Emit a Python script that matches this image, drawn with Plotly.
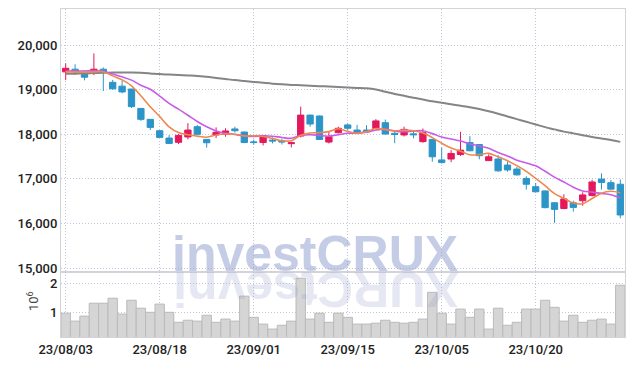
import plotly.graph_objects as go
from plotly.subplots import make_subplots

dates = (
    ["2023-08-%02d" % d for d in [3, 4, 7, 8, 9, 10, 11, 14, 16, 17, 18, 21, 22, 23, 24, 25, 28, 29, 30, 31]]
    + ["2023-09-%02d" % d for d in [1, 4, 5, 6, 7, 8, 11, 12, 13, 14, 15, 18, 19, 20, 21, 22, 25, 26, 27]]
    + ["2023-10-%02d" % d for d in [4, 5, 6, 10, 11, 12, 13, 16, 17, 18, 19, 20, 23, 24, 25, 26, 27, 30, 31]]
    + ["2023-11-%02d" % d for d in [1, 2]]
)

opens = [19400, 19460, 19350, 19410, 19460, 19165, 19080, 19015, 18580, 18335,
         18080, 17915, 17820, 17940, 18170, 17885, 17985, 18000, 18120, 18050,
         17830, 17815, 17870, 17850, 17790, 17960, 18430, 18410, 17825, 18035,
         18210, 18095, 18095, 18130, 18260, 18020, 17985, 18010, 17835, 17885,
         17425, 17445, 17545, 17815, 17770, 17410, 17445, 17310, 17220, 17010,
         16825, 16730, 16465, 16335, 16465, 16510, 16625, 16995, 16915, 16880]
highs = [19590, 19570, 19430, 19814, 19500, 19220, 19200, 19020, 18590, 18340,
         18090, 17980, 18005, 18250, 18210, 17890, 18155, 18135, 18170, 18060,
         17880, 17975, 17930, 17900, 17830, 18620, 18440, 18420, 18050, 18170,
         18240, 18210, 18205, 18340, 18330, 18060, 18170, 18090, 18130, 17890,
         17705, 17645, 18055, 17960, 17780, 17550, 17535, 17385, 17270, 17060,
         16910, 16740, 16470, 16655, 16510, 16700, 16980, 17125, 16975, 16985]
lows = [19215, 19330, 19210, 19327, 18970, 19000, 18920, 18590, 18300, 18095,
        17920, 17790, 17780, 17885, 17990, 17700, 17915, 17945, 18040, 17800,
        17770, 17750, 17795, 17770, 17705, 17930, 18170, 17880, 17795, 18020,
        18090, 18000, 18050, 18120, 18000, 17800, 17950, 17910, 17810, 17385,
        17345, 17375, 17515, 17620, 17440, 17400, 17160, 17160, 17075, 16760,
        16700, 16340, 16015, 16320, 16265, 16395, 16610, 16760, 16765, 16115]
closes = [19480, 19400, 19280, 19460, 19390, 19020, 18950, 18620, 18335, 18155,
          17930, 17795, 17975, 18095, 18000, 17810, 18045, 18075, 18080, 17815,
          17815, 17970, 17850, 17830, 17810, 18430, 18230, 17885, 17945, 18135,
          18135, 18020, 18060, 18300, 18005, 17995, 18110, 17990, 18035, 17495,
          17365, 17570, 17645, 17630, 17520, 17495, 17180, 17200, 17090, 16880,
          16710, 16355, 16315, 16550, 16360, 16640, 16930, 16920, 16770, 16190]

ma_short = [19400, 19400, 19390, 19400, 19402, 19310, 19220, 19088, 18863, 18616,
            18398, 18167, 18038, 17990, 17959, 17935, 17985, 18005, 18002, 17965,
            17966, 17951, 17906, 17856, 17855, 17978, 18030, 18037, 18060, 18125,
            18066, 18024, 18059, 18130, 18104, 18076, 18094, 18080, 18027, 17925,
            17799, 17691, 17622, 17541, 17546, 17572, 17494, 17405, 17297, 17169,
            17012, 16847, 16670, 16562, 16458, 16444, 16559, 16680, 16724, 16690]
ma_mid = [19420, 19420, 19420, 19425, 19415, 19350, 19290, 19215, 19100, 19009,
          18854, 18694, 18563, 18427, 18288, 18167, 18076, 18022, 17996, 17962,
          17951, 17968, 17956, 17929, 17910, 17972, 17991, 17972, 17958, 17990,
          18022, 18027, 18048, 18095, 18115, 18071, 18059, 18070, 18079, 18015,
          17938, 17893, 17851, 17784, 17736, 17686, 17593, 17514, 17419, 17358,
          17292, 17171, 17038, 16930, 16814, 16728, 16703, 16675, 16643, 16574]
ma_long = [19355, 19360, 19365, 19372, 19378, 19383, 19386, 19388, 19380, 19366,
           19350, 19340, 19330, 19320, 19310, 19290, 19265, 19240, 19215, 19195,
           19175, 19155, 19135, 19120, 19108, 19100, 19090, 19080, 19070, 19060,
           19050, 19040, 19030, 19005, 18955, 18905, 18862, 18820, 18780, 18740,
           18705, 18675, 18640, 18605, 18565, 18515, 18460, 18400, 18340, 18280,
           18220, 18160, 18110, 18060, 18020, 17980, 17940, 17905, 17870, 17830]

volume_m = [0.98, 0.71, 0.88, 1.32, 1.32, 1.49, 0.95, 1.42, 1.15, 1.01,
            1.29, 1.01, 0.67, 0.74, 0.71, 0.91, 0.67, 0.78, 0.71, 1.56,
            0.84, 0.61, 0.44, 0.57, 0.71, 2.17, 0.78, 0.98, 0.67, 0.98,
            0.84, 0.61, 0.61, 0.64, 0.74, 0.67, 0.64, 0.67, 0.78, 1.69,
            0.98, 0.61, 1.12, 0.84, 1.12, 0.44, 1.15, 0.57, 0.67, 1.12,
            1.12, 1.42, 1.18, 0.71, 0.91, 0.67, 0.74, 0.78, 0.61, 1.93]

x_tick_dates = ["2023-08-03", "2023-08-18", "2023-09-01", "2023-09-15", "2023-10-05", "2023-10-20"]
x_tick_labels = ["23/08/03", "23/08/18", "23/09/01", "23/09/15", "23/10/05", "23/10/20"]
price_ticks = [15000, 16000, 17000, 18000, 19000, 20000]
price_tick_labels = ["15,000", "16,000", "17,000", "18,000", "19,000", "20,000"]
vol_ticks = [1, 2]
vol_tick_labels = ["1", "2"]

UP = "#e3195c"
DOWN = "#2c95c8"
GRID = "#c0c6dc"
FRAME = "#d4d4d8"
DOTS = "1px,2px"
TICKFONT = dict(family="Roboto, sans-serif", size=13, weight=500, color="#222222")

fig = make_subplots(rows=2, cols=1, shared_xaxes=True, vertical_spacing=0,
                    row_heights=[0.802, 0.198])

fig.add_trace(go.Bar(x=dates, y=volume_m, marker=dict(color="#d5d5d5", line=dict(color="#bababa", width=1)),
                     showlegend=False, hoverinfo="skip"), row=2, col=1)

fig.add_trace(go.Scatter(x=dates, y=ma_long, mode="lines", line=dict(color="#858585", width=2, shape="spline"),
                         showlegend=False), row=1, col=1)
fig.add_trace(go.Scatter(x=dates, y=ma_mid, mode="lines", line=dict(color="#c95ae8", width=1.6, shape="spline"),
                         showlegend=False), row=1, col=1)
fig.add_trace(go.Scatter(x=dates, y=ma_short, mode="lines", line=dict(color="#ef874e", width=1.6, shape="spline"),
                         showlegend=False), row=1, col=1)
fig.add_trace(go.Candlestick(x=dates, open=opens, high=highs, low=lows, close=closes,
                             increasing=dict(line=dict(color=UP, width=1), fillcolor=UP),
                             decreasing=dict(line=dict(color=DOWN, width=1), fillcolor=DOWN),
                             whiskerwidth=0, showlegend=False), row=1, col=1)

axis_common = dict(type="category", range=[-0.5, len(dates) - 0.5], showgrid=True, gridcolor=GRID,
                   griddash=DOTS, gridwidth=1, tickmode="array", tickvals=x_tick_dates,
                   ticktext=x_tick_labels, showline=True, linecolor=FRAME, linewidth=1, mirror=True,
                   ticks="", tickfont=TICKFONT, zeroline=False, automargin=False)
fig.update_xaxes(**axis_common)
fig.update_xaxes(showticklabels=False, rangeslider=dict(visible=False), row=1, col=1)
fig.update_xaxes(showticklabels=True, row=2, col=1)

fig.update_yaxes(range=[14910, 20810], tickmode="array", tickvals=price_ticks, ticktext=price_tick_labels,
                 showgrid=True, gridcolor=GRID, griddash=DOTS, showline=True, linecolor=FRAME, mirror=True,
                 ticks="", tickfont=TICKFONT, zeroline=False, automargin=False, row=1, col=1)
fig.update_yaxes(range=[0.17, 2.38], tickmode="array", tickvals=vol_ticks, ticktext=vol_tick_labels,
                 showgrid=True, gridcolor=GRID, griddash=DOTS, showline=True, linecolor=FRAME, mirror=True,
                 ticks="", tickfont=TICKFONT, zeroline=False, automargin=False, row=2, col=1)

WM_FONT = "Liberation Sans, Arial, sans-serif"
annotations = []
annotations.append(dict(text="investCRUX", xref="paper", yref="paper", x=(315 - 61) / 564,
                        y=(337 - 253.7) / 328, xanchor="center", yanchor="middle", showarrow=False,
                        font=dict(family=WM_FONT, size=50, weight="bold", color="rgba(150,163,208,0.55)")))
letters = ["i", "n", "v", "e", "s", "t", "C", "R", "U", "X"]
centers = [180, 202.2, 231.35, 259.15, 286.95, 309.2, 335.55, 371.65, 407.75, 442.5]
for ch, cx in zip(letters, centers):
    annotations.append(dict(text=ch, xref="paper", yref="paper", x=(cx - 61) / 564,
                            y=(337 - 288.3) / 328, xanchor="center", yanchor="middle", showarrow=False,
                            textangle=180,
                            font=dict(family=WM_FONT, size=50, weight="bold",
                                      color="rgba(150,163,208,0.25)")))
annotations.append(dict(text="10<sup>6</sup>", xref="paper", yref="paper", x=(33 - 61) / 564,
                        y=(337 - 301) / 328, xanchor="center", yanchor="middle", showarrow=False,
                        textangle=-90, font=dict(family="Roboto, sans-serif", size=13, color="#444444")))

fig.update_layout(width=634, height=366, margin=dict(l=61, r=9, t=9, b=29, autoexpand=False),
                  paper_bgcolor="white", plot_bgcolor="white", bargap=0, boxgap=0.33, boxgroupgap=0,
                  annotations=annotations, hovermode=False, showlegend=False)

fig.write_html("out.html", config={"displayModeBar": False, "staticPlot": True},
               post_script="document.body.style.margin='0';")
